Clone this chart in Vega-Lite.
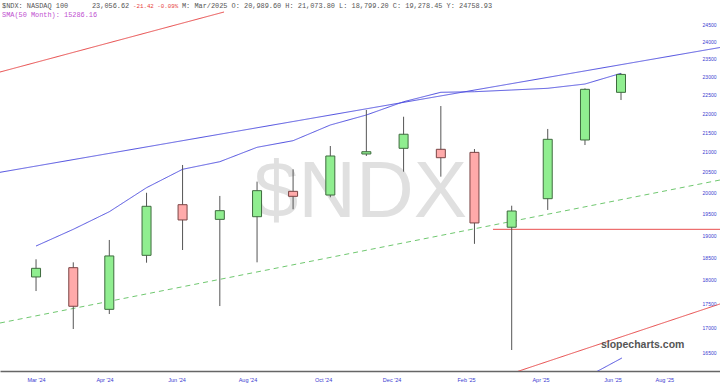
{
  "$schema": "https://vega.github.io/schema/vega-lite/v6.json",
  "width": 720,
  "height": 371,
  "autosize": {"type": "none"},
  "padding": {"left": 0, "top": 0, "right": 0, "bottom": 18},
  "background": "white",
  "config": {"view": {"stroke": null}},
  "datasets": {
    "candles": [
      {"date": "2024-03-01T00:00:00", "open": 18064, "high": 18453, "low": 17760, "close": 18253},
      {"date": "2024-04-01T00:00:00", "open": 18267, "high": 18385, "low": 16966, "close": 17437},
      {"date": "2024-05-01T00:00:00", "open": 17373, "high": 18887, "low": 17275, "close": 18527},
      {"date": "2024-06-01T00:00:00", "open": 18541, "high": 19992, "low": 18377, "close": 19669},
      {"date": "2024-07-01T00:00:00", "open": 19707, "high": 20673, "low": 18660, "close": 19348},
      {"date": "2024-08-01T00:00:00", "open": 19362, "high": 19916, "low": 17442, "close": 19566},
      {"date": "2024-09-01T00:00:00", "open": 19424, "high": 20262, "low": 18385, "close": 20043},
      {"date": "2024-10-01T00:00:00", "open": 20027, "high": 20566, "low": 19598, "close": 19907},
      {"date": "2024-11-01T00:00:00", "open": 19938, "high": 21151, "low": 19884, "close": 20898},
      {"date": "2024-12-01T00:00:00", "open": 20948, "high": 22089, "low": 20898, "close": 21006},
      {"date": "2025-01-01T00:00:00", "open": 21092, "high": 21910, "low": 20507, "close": 21453},
      {"date": "2025-02-01T00:00:00", "open": 21067, "high": 22195, "low": 20384, "close": 20855},
      {"date": "2025-03-01T00:00:00", "open": 20989.6, "high": 21073.8, "low": 18799.2, "close": 19278.45},
      {"date": "2025-04-01T00:00:00", "open": 19179, "high": 19683, "low": 16542, "close": 19558},
      {"date": "2025-05-01T00:00:00", "open": 19850, "high": 21590, "low": 19583, "close": 21322},
      {"date": "2025-06-01T00:00:00", "open": 21305, "high": 22673, "low": 21176, "close": 22646},
      {"date": "2025-07-01T00:00:00", "open": 22564, "high": 23087, "low": 22356, "close": 23056.62}
    ],
    "lines": [
      {"series": "ma", "date": "2024-03-01T00:00:00", "value": 18750},
      {"series": "ma", "date": "2024-04-01T00:00:00", "value": 19131},
      {"series": "ma", "date": "2024-05-01T00:00:00", "value": 19541},
      {"series": "ma", "date": "2024-06-01T00:00:00", "value": 20115},
      {"series": "ma", "date": "2024-07-01T00:00:00", "value": 20566},
      {"series": "ma", "date": "2024-08-01T00:00:00", "value": 20755},
      {"series": "ma", "date": "2024-09-01T00:00:00", "value": 21118},
      {"series": "ma", "date": "2024-10-01T00:00:00", "value": 21287},
      {"series": "ma", "date": "2024-11-01T00:00:00", "value": 21693},
      {"series": "ma", "date": "2024-12-01T00:00:00", "value": 21956},
      {"series": "ma", "date": "2025-01-01T00:00:00", "value": 22310},
      {"series": "ma", "date": "2025-02-01T00:00:00", "value": 22565},
      {"series": "ma", "date": "2025-03-01T00:00:00", "value": 22581},
      {"series": "ma", "date": "2025-04-01T00:00:00", "value": 22627},
      {"series": "ma", "date": "2025-05-01T00:00:00", "value": 22674},
      {"series": "ma", "date": "2025-06-01T00:00:00", "value": 22791},
      {"series": "ma", "date": "2025-07-01T00:00:00", "value": 23087},
      {"series": "trend", "date": "2024-01-31T00:00:00", "value": 20491},
      {"series": "trend", "date": "2025-09-21T10:00:00", "value": 23816},
      {"series": "channel", "date": "2024-01-31T00:00:00", "value": 17089},
      {"series": "channel", "date": "2025-09-21T10:00:00", "value": 20302},
      {"series": "redtop", "date": "2024-01-31T00:00:00", "value": 23123},
      {"series": "redtop", "date": "2024-08-04T12:00:00", "value": 24857},
      {"series": "redflat", "date": "2025-03-16T10:00:00", "value": 19131},
      {"series": "redflat", "date": "2025-09-21T10:00:00", "value": 19131},
      {"series": "redbottom", "date": "2025-03-13T21:00:00", "value": 15942},
      {"series": "redbottom", "date": "2025-09-21T10:00:00", "value": 17486},
      {"series": "blueshort", "date": "2025-06-05T05:00:00", "value": 16047},
      {"series": "blueshort", "date": "2025-07-01T19:00:00", "value": 16384}
    ],
    "notes": [
      {"date": "2024-11-26T00:00:00", "value": 19417, "label": "$NDX", "kind": "watermark"},
      {"date": "2024-02-01T16:00:00", "value": 25052, "label": "$NDX: NASDAQ 100", "kind": "head"},
      {"date": "2024-04-16T14:00:00", "value": 25052, "label": "23,056.62", "kind": "head"},
      {"date": "2024-05-20T17:00:00", "value": 25052, "label": "-21.42 -0.09%", "kind": "change"},
      {"date": "2024-06-30T12:00:00", "value": 25052, "label": "M: Mar/2025 O: 20,989.60 H: 21,073.80 L: 18,799.20 C: 19,278.45 Y: 24758.93", "kind": "head"},
      {"date": "2024-02-01T16:00:00", "value": 24767, "label": "SMA(50 Month): 15286.16", "kind": "sma"},
      {"date": "2025-06-14T07:00:00", "value": 16641, "label": "slopecharts.com", "kind": "brand"}
    ]
  },
  "encoding": {
    "x": {"field": "date", "type": "temporal",
      "scale": {"domain": ["2024-01-31T00:00:00", "2025-09-21T10:00:00"], "nice": false, "padding": 0},
      "axis": {"title": null, "values": [
        "2024-03-01T00:00:00", "2024-04-27T00:00:00", "2024-06-26T00:00:00", "2024-08-24T00:00:00", "2024-10-26T00:00:00",
        "2024-12-22T00:00:00", "2025-02-22T00:00:00", "2025-04-25T00:00:00", "2025-06-24T00:00:00", "2025-08-06T00:00:00"
      ], "format": "%b '%y", "labelFont": "Liberation Sans", "labelFontSize": 5.5, "labelColor": "#3a3ad0", "ticks": false, "grid": false, "domainColor": "#666666", "domainWidth": 1.5, "labelPadding": 6, "labelOverlap": false, "labelFlush": false}},
    "y": {"field": "value", "type": "quantitative",
      "scale": {"type": "log", "domain": [16129, 25219], "nice": false, "zero": false},
      "axis": {"orient": "right", "title": null, "values": [16500, 17000, 17500, 18000, 18500, 19000, 19500, 20000, 20500, 21000, 21500, 22000, 22500, 23000, 23500, 24000, 24500], "format": "d", "labelFont": "Liberation Sans", "labelFontSize": 5, "labelColor": "#3a3ad0", "ticks": false, "tickSize": 0, "domain": false, "grid": false, "offset": -4, "labelPadding": 0, "labelAlign": "right", "labelOverlap": false, "labelFlush": false}}
  },
  "layer": [
    {
      "data": {"name": "notes"},
      "transform": [{"filter": "datum.kind == 'watermark'"}],
      "mark": {"type": "text", "font": "Liberation Sans", "fontSize": 80, "color": "#e0e0e0", "align": "center", "baseline": "alphabetic"},
      "encoding": {
        "text": {"field": "label"}
      }
    },
    {
      "data": {"name": "lines"},
      "mark": {"type": "line", "clip": true, "strokeWidth": 1},
      "encoding": {
        "color": {"field": "series", "type": "nominal", "legend": null,
          "scale": {"domain": ["ma", "trend", "channel", "redtop", "redflat", "redbottom", "blueshort"], "range": ["#5050e0", "#5050e0", "#70c870", "#e84a4a", "#e84a4a", "#e84a4a", "#5050e0"]}},
        "strokeDash": {"field": "series", "type": "nominal", "legend": null,
          "scale": {"domain": ["ma", "trend", "channel", "redtop", "redflat", "redbottom", "blueshort"], "range": [[1, 0], [1, 0], [5, 4], [1, 0], [1, 0], [1, 0], [1, 0]]}}
      }
    },
    {
      "data": {"name": "candles"},
      "mark": {"type": "rule", "color": "#555555", "strokeWidth": 1},
      "encoding": {
        "y": {"field": "low", "type": "quantitative",
          "scale": {"type": "log", "domain": [16129, 25219], "nice": false, "zero": false},
          "axis": {"orient": "right", "title": null, "values": [16500, 17000, 17500, 18000, 18500, 19000, 19500, 20000, 20500, 21000, 21500, 22000, 22500, 23000, 23500, 24000, 24500], "format": "d", "labelFont": "Liberation Sans", "labelFontSize": 5, "labelColor": "#3a3ad0", "ticks": false, "tickSize": 0, "domain": false, "grid": false, "offset": -4, "labelPadding": 0, "labelAlign": "right", "labelOverlap": false, "labelFlush": false}},
        "y2": {"field": "high"}
      }
    },
    {
      "data": {"name": "candles"},
      "mark": {"type": "bar", "width": 9, "strokeWidth": 1},
      "encoding": {
        "y": {"field": "open", "type": "quantitative",
          "scale": {"type": "log", "domain": [16129, 25219], "nice": false, "zero": false},
          "axis": {"orient": "right", "title": null, "values": [16500, 17000, 17500, 18000, 18500, 19000, 19500, 20000, 20500, 21000, 21500, 22000, 22500, 23000, 23500, 24000, 24500], "format": "d", "labelFont": "Liberation Sans", "labelFontSize": 5, "labelColor": "#3a3ad0", "ticks": false, "tickSize": 0, "domain": false, "grid": false, "offset": -4, "labelPadding": 0, "labelAlign": "right", "labelOverlap": false, "labelFlush": false}},
        "y2": {"field": "close"},
        "fill": {"condition": {"test": "datum.close >= datum.open", "value": "#90ee90"}, "value": "#ffaaaa"},
        "stroke": {"condition": {"test": "datum.close >= datum.open", "value": "#3f6b3f"}, "value": "#7a4444"}
      }
    },
    {
      "data": {"name": "notes"},
      "transform": [{"filter": "datum.kind == 'head' || datum.kind == 'change' || datum.kind == 'sma'"}],
      "mark": {"type": "text", "font": "Liberation Mono", "align": "left", "baseline": "middle"},
      "encoding": {
        "text": {"field": "label"},
        "color": {"condition": [{"test": "datum.kind == 'change'", "value": "#e84040"}, {"test": "datum.kind == 'sma'", "value": "#c050d0"}], "value": "#555555"},
        "size": {"condition": {"test": "datum.kind == 'change'", "value": 5.8}, "value": 6.9}
      }
    },
    {
      "data": {"name": "notes"},
      "transform": [{"filter": "datum.kind == 'brand'"}],
      "mark": {"type": "text", "font": "Liberation Sans", "fontSize": 10.5, "fontWeight": "bold", "color": "#555555", "align": "left", "baseline": "middle"},
      "encoding": {
        "text": {"field": "label"}
      }
    }
  ]
}
